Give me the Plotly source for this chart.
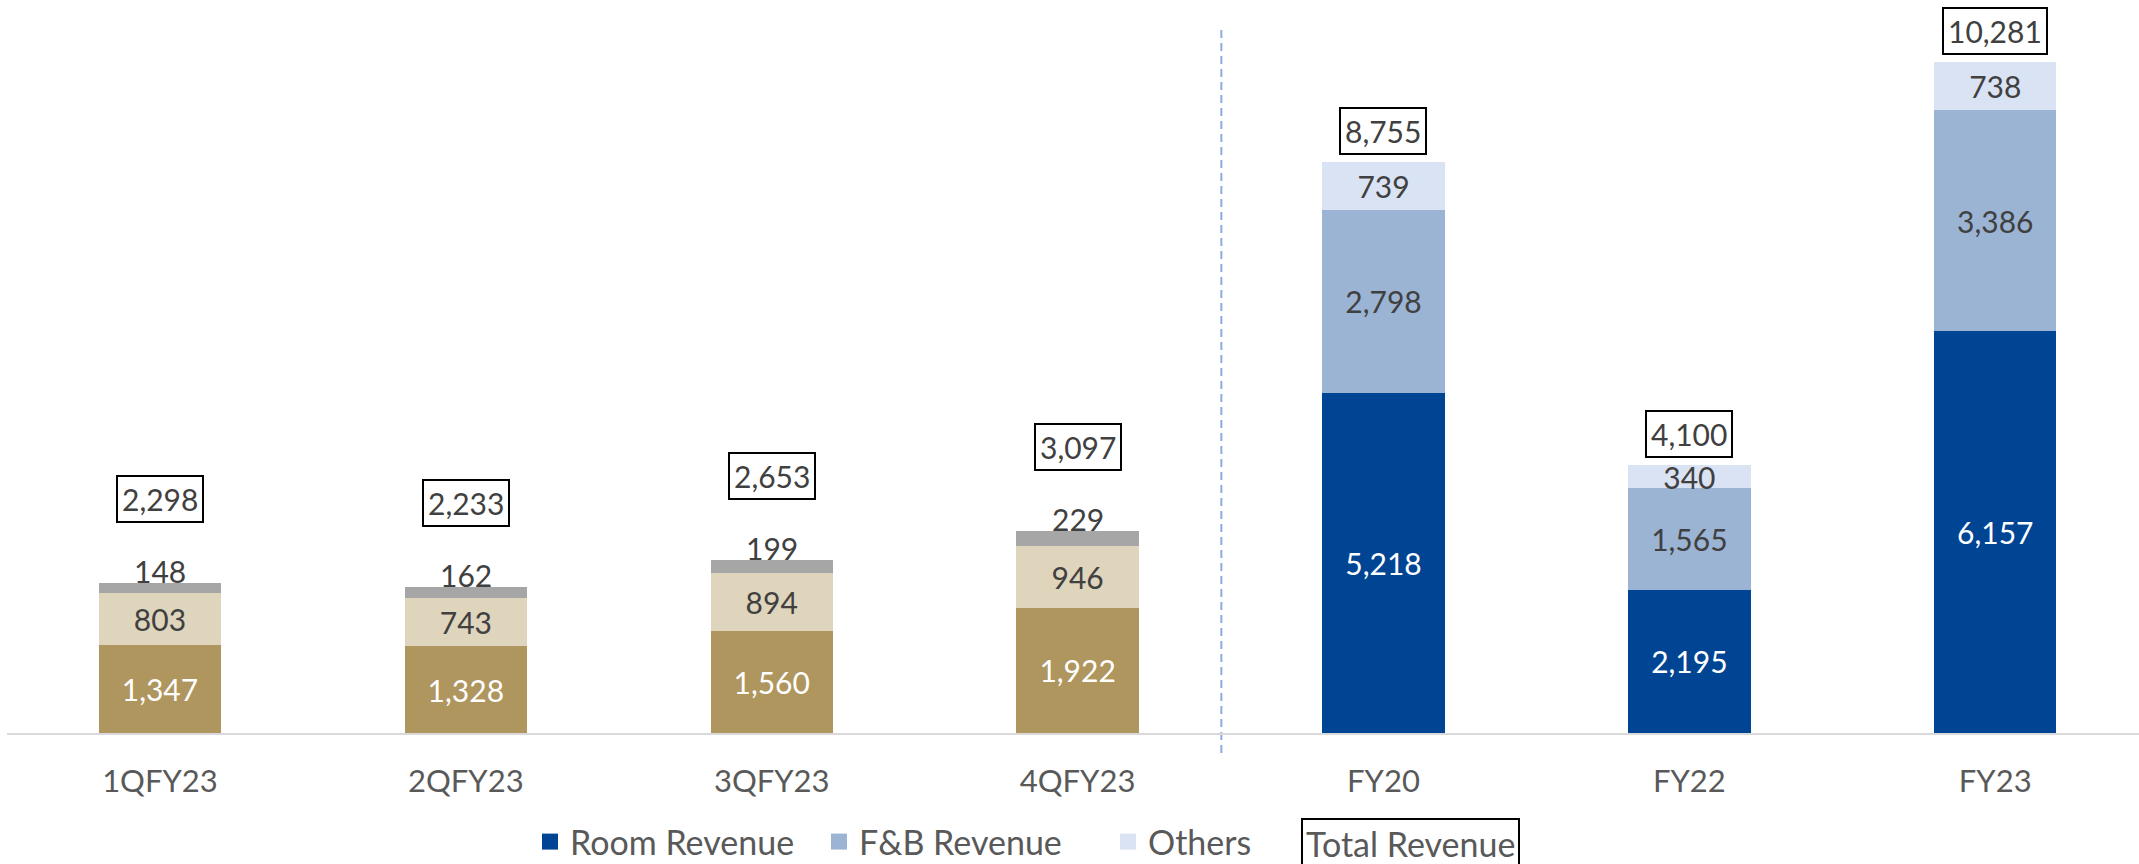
import plotly.graph_objects as go

categories = ["1QFY23", "2QFY23", "3QFY23", "4QFY23", "FY20", "FY22", "FY23"]
room_revenue = [1347, 1328, 1560, 1922, 5218, 2195, 6157]
fnb_revenue = [803, 743, 894, 946, 2798, 1565, 3386]
others_revenue = [148, 162, 199, 229, 739, 340, 738]
total_revenue = [2298, 2233, 2653, 3097, 8755, 4100, 10281]

Q = slice(0, 4)
F = slice(4, 7)

FONT = "Lato"
DARK = "#404040"
GREY = "#595959"
FY_COLORS = {"Room Revenue": "#004494", "F&B Revenue": "#9BB4D4", "Others": "#DAE3F3"}

W, H = 2139, 864
ML, MB = 7, 131
PW, PH = W - ML, H - MB
PX_PER_UNIT = 0.06525

fig = go.Figure()

def bar(x, y, color, name, textcolor, textpos="inside"):
    return go.Bar(
        x=x, y=y, name=name, marker=dict(color=color, line=dict(width=0)),
        texttemplate="%{y:,}", textposition=textpos, insidetextanchor="middle",
        textangle=0, constraintext="none",
        textfont=dict(family=FONT, size=30, color=textcolor),
        showlegend=False, legendgroup=name, hoverinfo="x+y+name",
    )

# Quarterly (gold palette)
fig.add_trace(bar(categories[Q], room_revenue[Q], "#AF955E", "Room Revenue", "white"))
fig.add_trace(bar(categories[Q], fnb_revenue[Q], "#DFD4BC", "F&B Revenue", DARK))
fig.add_trace(bar(categories[Q], others_revenue[Q], "#A6A6A6", "Others", DARK, "none"))
# Full year (blue palette)
fig.add_trace(bar(categories[F], room_revenue[F], FY_COLORS["Room Revenue"], "Room Revenue", "white"))
fig.add_trace(bar(categories[F], fnb_revenue[F], FY_COLORS["F&B Revenue"], "F&B Revenue", DARK))
fig.add_trace(bar(categories[F], others_revenue[F], FY_COLORS["Others"], "Others", DARK))

# legend entries (square swatches)
for name, col in FY_COLORS.items():
    fig.add_trace(go.Scatter(
        x=[None], y=[None], mode="markers", name=name, legendgroup=name,
        marker=dict(symbol="square", size=18, color=col), showlegend=True,
        hoverinfo="skip",
    ))

annotations = []
for i, c in enumerate(categories):
    quarterly = i < 4
    annotations.append(dict(
        x=c, y=total_revenue[i], xref="x", yref="y", yanchor="bottom",
        yshift=60 if quarterly else 7, text=f"{total_revenue[i]:,}", showarrow=False,
        font=dict(family=FONT, size=30, color=DARK),
        bordercolor="black", borderwidth=2, borderpad=4, bgcolor="white",
    ))
    if quarterly:
        annotations.append(dict(
            x=c, y=total_revenue[i], xref="x", yref="y", yanchor="bottom",
            yshift=-8, text=f"{others_revenue[i]:,}", showarrow=False,
            font=dict(family=FONT, size=30, color=DARK),
        ))

legend_y = (PH - 842) / PH
annotations.append(dict(
    x=(1410 - ML) / PW, y=(PH - 843) / PH, xref="paper", yref="paper", xanchor="center",
    yanchor="middle", text="Total Revenue", showarrow=False,
    font=dict(family=FONT, size=34, color=GREY),
    bordercolor="black", borderwidth=2, borderpad=3, bgcolor="white",
))

fig.update_layout(
    width=W, height=H, autosize=False,
    margin=dict(l=ML, r=0, t=0, b=MB, pad=0, autoexpand=False),
    barmode="stack", bargap=0.6,
    plot_bgcolor="white", paper_bgcolor="white",
    font=dict(family=FONT, color=GREY),
    xaxis=dict(
        type="category", categoryorder="array", categoryarray=categories,
        range=[-0.5, 6.47], showline=True, linecolor="#D9D9D9", linewidth=2,
        showgrid=False, zeroline=False, ticks="outside", ticklen=20,
        tickcolor="rgba(0,0,0,0)", tickfont=dict(family=FONT, size=31, color=GREY),
    ),
    yaxis=dict(visible=False, range=[0, PH / PX_PER_UNIT], showgrid=False, zeroline=False),
    legend=dict(
        orientation="h", x=(530 - ML) / PW, xanchor="left", y=legend_y, yanchor="middle",
        font=dict(family=FONT, size=34, color=GREY), traceorder="normal",
        entrywidth=244, itemsizing="trace", bgcolor="rgba(0,0,0,0)",
    ),
    annotations=annotations,
    shapes=[dict(
        type="line", xref="x", yref="paper", x0=3.47, x1=3.47,
        y0=-20 / PH, y1=(PH - 25) / PH,
        line=dict(color="#8FAADC", width=2, dash="8px,5px"), layer="below",
    )],
)

fig.write_html("out.html", config={"displayModeBar": False},
               post_script="document.body.style.margin='0';")
